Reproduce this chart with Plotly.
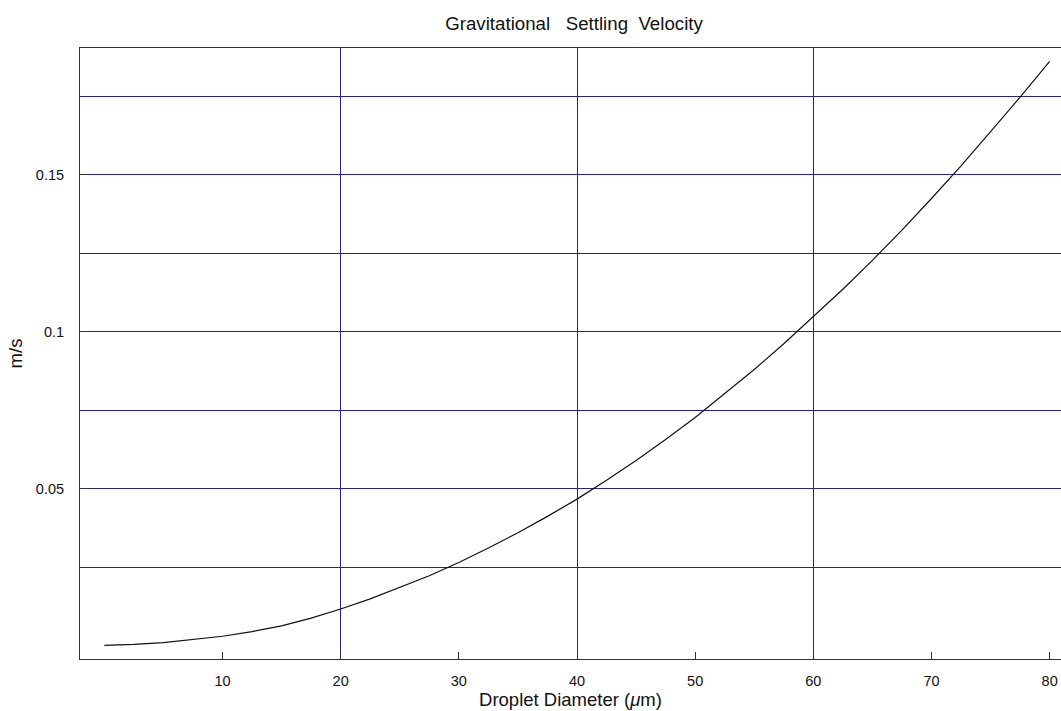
import plotly.graph_objects as go

# Data
diameter_um = [0, 2.5, 5, 7.5, 10, 12.5, 15, 17.5, 20, 22.5, 25, 27.5, 30, 32.5, 35, 37.5, 40,
               42.5, 45, 47.5, 50, 52.5, 55, 57.5, 60, 62.5, 65, 67.5, 70, 72.5, 75, 77.5, 80]
velocity_ms = [0.0001, 0.0004, 0.0010, 0.0019, 0.0030, 0.0045, 0.0063, 0.0088, 0.0117, 0.0149,
               0.0185, 0.0223, 0.0265, 0.0311, 0.0360, 0.0412, 0.0467, 0.0527, 0.0590, 0.0657,
               0.0727, 0.0802, 0.0880, 0.0962, 0.1048, 0.1136, 0.1228, 0.1324, 0.1425, 0.1529,
               0.1638, 0.1748, 0.1862]

x_tick_vals = [10, 20, 30, 40, 50, 60, 70, 80]
x_grid_vals = [20, 40, 60]
y_tick_vals = [0.05, 0.1, 0.15]
y_tick_text = ["0.05", "0.1", "0.15"]
y_grid_vals = [0.025, 0.05, 0.075, 0.1, 0.125, 0.15, 0.175]

x_range = [-2.06, 80.96]
y_range = [-0.00425, 0.19047]

FONT = "Liberation Sans, Arial, sans-serif"
GRID = "#2222a0"
AXIS = "#333333"

W, H = 1061, 711

fig = go.Figure()
fig.add_trace(go.Scatter(x=diameter_um, y=velocity_ms, mode="lines",
                         line=dict(color="#111111", width=1.2), showlegend=False,
                         xaxis="x", yaxis="y"))
# empty trace to host grid axes
fig.add_trace(go.Scatter(x=[], y=[], xaxis="x2", yaxis="y2", showlegend=False, hoverinfo="skip"))

fig.update_layout(
    width=W, height=H,
    margin=dict(l=80, r=0, t=47.5, b=51.5, autoexpand=False),
    paper_bgcolor="white", plot_bgcolor="white",
    font=dict(family=FONT, color="#111111"),
    title=dict(text="Gravitational\u00a0\u00a0 Settling\u00a0 Velocity",
               font=dict(size=18.7, family=FONT, color="#111111"),
               x=0.5036, xanchor="center", xref="paper", y=1 - 23 / H, yanchor="middle",
               automargin=False),
    xaxis=dict(range=x_range, tickmode="array", tickvals=x_tick_vals,
               ticks="inside", ticklen=7, tickcolor=AXIS, tickwidth=1,
               showgrid=False, zeroline=False, showline=True, linecolor=AXIS, linewidth=1,
               mirror=True, tickfont=dict(size=14.5, family=FONT), automargin=False,
               ticklabelstandoff=9,
               title=dict(text="Droplet Diameter (<i>\u03bc</i>m)", font=dict(size=18.5, family=FONT),
                          standoff=3)),
    yaxis=dict(range=y_range, tickmode="array", tickvals=y_tick_vals, ticktext=y_tick_text,
               ticks="inside", ticklen=7, tickcolor=AXIS, tickwidth=1,
               showgrid=False, zeroline=False, showline=True, linecolor=AXIS, linewidth=1,
               tickfont=dict(size=14.5, family=FONT), automargin=False,
               ticklabelstandoff=12,
               title=dict(text="m/s", font=dict(size=18.5, family=FONT), standoff=8)),
    xaxis2=dict(overlaying="x", anchor="y2", range=x_range, tickmode="array", tickvals=x_grid_vals,
                showgrid=True, gridcolor=GRID, gridwidth=1, showticklabels=False, ticks="",
                zeroline=False, showline=False, automargin=False),
    yaxis2=dict(overlaying="y", anchor="x2", range=y_range, tickmode="array", tickvals=y_grid_vals,
                showgrid=True, gridcolor=GRID, gridwidth=1, showticklabels=False, ticks="",
                zeroline=False, showline=False, automargin=False),
)

# remove the default page margin so the figure fills the window exactly
fig.write_html("out.html",
               config={"displayModeBar": False},
               post_script="document.body.style.margin='0';document.body.style.overflow='hidden';")
